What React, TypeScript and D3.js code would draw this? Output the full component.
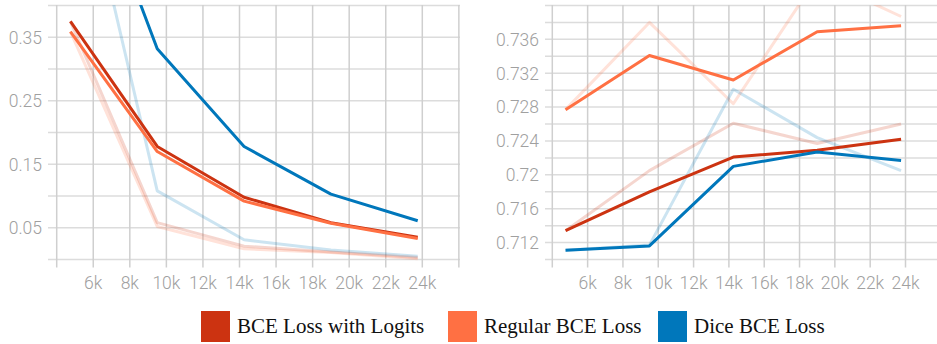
import React from 'react';
import * as d3 from 'd3';

const STEPS = [4750, 9500, 14250, 19000, 23750];

// loss panel (smoothed + raw)
const LOSS_LOGITS = [0.375, 0.178, 0.098, 0.058, 0.035];
const LOSS_REGULAR = [0.359, 0.170, 0.092, 0.057, 0.033];
const LOSS_DICE = [0.694, 0.332, 0.178, 0.103, 0.061];
const LOSS_LOGITS_RAW = [0.375, 0.058, 0.021, 0.012, 0.003];
const LOSS_REGULAR_RAW = [0.359, 0.052, 0.017, 0.011, 0.001];
const LOSS_DICE_RAW = [0.694, 0.108, 0.031, 0.015, 0.005];

// accuracy panel (smoothed + raw)
const ACC_LOGITS = [0.7134, 0.7180, 0.7221, 0.7229, 0.7242];
const ACC_REGULAR = [0.7277, 0.7341, 0.7312, 0.7369, 0.7376];
const ACC_DICE = [0.7111, 0.7116, 0.7210, 0.7227, 0.7217];
const ACC_LOGITS_RAW = [0.7134, 0.7205, 0.7261, 0.7237, 0.7260];
const ACC_REGULAR_RAW = [0.7277, 0.7380, 0.7284, 0.7433, 0.7387];
const ACC_DICE_RAW = [0.7111, 0.7117, 0.7301, 0.7244, 0.7205];

const X_TICKS = [4000, 6000, 8000, 10000, 12000, 14000, 16000, 18000, 20000, 22000, 24000, 26000];
const X_LABELS = ['6k', '8k', '10k', '12k', '14k', '16k', '18k', '20k', '22k', '24k'];
const LOSS_GRID = [0, 0.05, 0.1, 0.15, 0.2, 0.25, 0.3, 0.35, 0.4];
const LOSS_LABELS = ['0.05', '0.15', '0.25', '0.35'];
const ACC_GRID = [0.710, 0.712, 0.714, 0.716, 0.718, 0.720, 0.722, 0.724, 0.726, 0.728, 0.730, 0.732, 0.734, 0.736, 0.738, 0.740];
const ACC_LABELS = ['0.712', '0.716', '0.72', '0.724', '0.728', '0.732', '0.736'];

const NAMES = ['BCE Loss with Logits', 'Regular BCE Loss', 'Dice BCE Loss'];
const COLORS = ['#cc3311', '#ff7043', '#0077bb'];

const W = 937;
const H = 344;
const TOP = 5;
const BOTTOM = 259.5;

function Panel({ id, left, right, x4k, x24k, domain, grid, labels, smooth, raw }) {
  const x = d3.scaleLinear().domain([4000, 24000]).range([x4k, x24k]);
  const y = d3.scaleLinear().domain(domain).range([BOTTOM, TOP + 0.5]);
  const line = d3.line<number>().x((d, i) => x(STEPS[i])).y(d => y(d));
  const ticks = X_TICKS.filter(t => x(t) <= right + 1);
  return (
    <g>
      <defs>
        <clipPath id={id}>
          <rect x={left} y={TOP} width={right - left} height={BOTTOM - TOP + 2} />
        </clipPath>
      </defs>
      {grid.map(v => (
        <line key={'h' + v} x1={left} x2={right} y1={y(v)} y2={y(v)} stroke="#dcdcdc" strokeWidth={1.5} />
      ))}
      {ticks.map(t => (
        <line key={'v' + t} x1={x(t)} x2={x(t)} y1={TOP} y2={BOTTOM + 8} stroke="#cfcfcf" strokeWidth={1.5} />
      ))}
      {labels.map(l => (
        <text key={'yl' + l} x={left - 6} y={y(+l)} dy="0.36em" textAnchor="end"
          fontFamily="Roboto" fontWeight={300} fontSize={17.5} fill="#a0a0a0">{l}</text>
      ))}
      {X_LABELS.map(l => (
        <text key={'xl' + l} x={x(parseInt(l) * 1000)} y={289} textAnchor="middle"
          fontFamily="Roboto" fontWeight={300} fontSize={17.5} fill="#a0a0a0">{l}</text>
      ))}
      <g clipPath={`url(#${id})`} fill="none" strokeWidth={3} strokeLinejoin="round">
        {raw.map((s, i) => (
          <path key={'r' + i} d={line(s)} stroke={COLORS[i]} strokeOpacity={0.2} />
        ))}
        {smooth.map((s, i) => (
          <path key={'s' + i} d={line(s)} stroke={COLORS[i]} />
        ))}
      </g>
    </g>
  );
}

const LEGEND_X = [201, 448, 658];

export default function App() {
  return (
    <svg width={W} height={H} style={{ position: 'absolute', left: 0, top: 0, background: '#fff' }}>
      <Panel id="cl" left={48} right={460} x4k={56.7} x24k={422.3} domain={[0, 0.4]}
        grid={LOSS_GRID} labels={LOSS_LABELS}
        smooth={[LOSS_LOGITS, LOSS_REGULAR, LOSS_DICE]}
        raw={[LOSS_LOGITS_RAW, LOSS_REGULAR_RAW, LOSS_DICE_RAW]} />
      <Panel id="cr" left={545} right={937} x4k={552.3} x24k={905.5} domain={[0.71, 0.74]}
        grid={ACC_GRID} labels={ACC_LABELS}
        smooth={[ACC_LOGITS, ACC_REGULAR, ACC_DICE]}
        raw={[ACC_LOGITS_RAW, ACC_REGULAR_RAW, ACC_DICE_RAW]} />
      {NAMES.map((n, i) => (
        <g key={n} transform={`translate(${LEGEND_X[i]},311)`}>
          <rect width={29} height={31} fill={COLORS[i]} />
          <text x={36} y={22} fontFamily="'Liberation Serif', 'Times New Roman', serif" fontSize={21} fill="#111">{n}</text>
        </g>
      ))}
    </svg>
  );
}
